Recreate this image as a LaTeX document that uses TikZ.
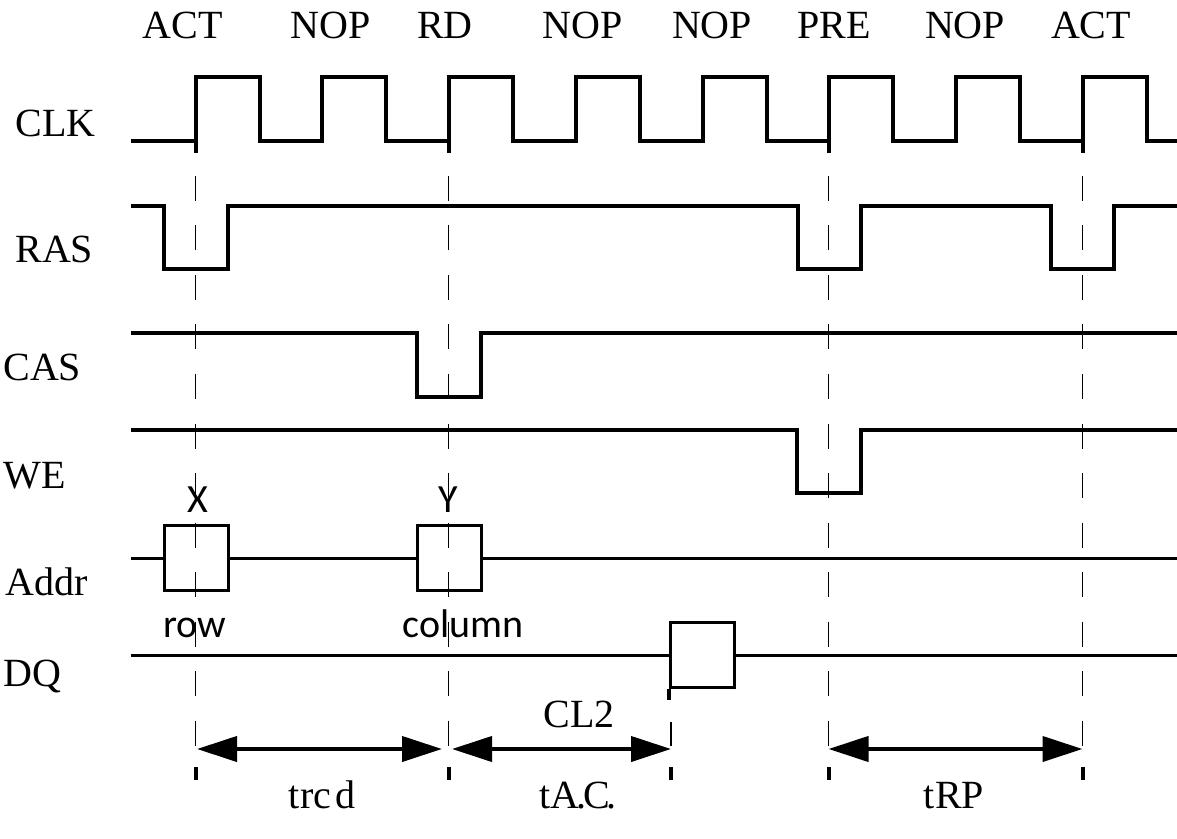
\documentclass[tikz,border=0pt]{standalone}
\usepackage{fontspec}
\setmainfont{Liberation Serif}
\newfontfamily\carl{Carlito}
\usetikzlibrary{arrows.meta}
\begin{document}
\begin{tikzpicture}[x=0.5pt,y=-0.5pt,
  sig/.style={line width=2pt,line join=miter,line cap=butt},
  bus/.style={line width=1.5pt,line cap=butt},
  databox/.style={draw,line width=1.5pt,fill=white,rectangle,inner sep=0pt,minimum width=32pt,minimum height=32.5pt},
  dashline/.style={line width=0.65pt,dash pattern=on 12.5pt off 12.25pt},
  tick/.style={line width=2pt,line cap=butt},
  lbl/.style={inner sep=0pt,font=\fontsize{20pt}{24pt}\selectfont},
  cmd/.style={lbl,anchor=base},
  sname/.style={lbl,anchor=base west},
  sans/.style={inner sep=0pt,anchor=base,font=\carl\fontsize{20pt}{24pt}\selectfont},
  dimarrow/.style={line width=2pt,{Triangle[length=20pt,width=12.5pt,sep=2.5pt]}-{Triangle[length=20pt,width=12.5pt,sep=2.5pt]}}
]
\useasboundingbox (0,0) rectangle (1177,839);

% command labels
\node[cmd] (c1) at (182.5,39) {ACT};
\node[cmd] (c2) at (331,39) {NOP};
\node[cmd] (c3) at (445,39) {RD};
\node[cmd] (c4) at (583,39) {NOP};
\node[cmd] (c5) at (712,39) {NOP};
\node[cmd] (c6) at (834,39) {PRE};
\node[cmd] (c7) at (965,39) {NOP};
\node[cmd] (c8) at (1091,39) {ACT};

% signal names
\node[sname] (nclk) at (15,137) {CLK};
\node[sname] (nras) at (15,263) {RAS};
\node[sname] (ncas) at (3,380) {CAS};
\node[sname] (nwe) at (3,488) {WE};
\node[sname] (naddr) at (5,595) {Addr};
\node[sname] (ndq) at (3,686) {DQ};

% CLK
\draw[sig] (131,141) -- (195.5,141) -- (195.5,77) -- (259.5,77) -- (259.5,141)
  -- (322.25,141) -- (322.25,77) -- (386.25,77) -- (386.25,141)
  -- (448.5,141) -- (448.5,77) -- (513,77) -- (513,141)
  -- (575.75,141) -- (575.75,77) -- (639.75,77) -- (639.75,141)
  -- (702.5,141) -- (702.5,77) -- (766.5,77) -- (766.5,141)
  -- (828.75,141) -- (828.75,77) -- (893.25,77) -- (893.25,141)
  -- (956,141) -- (956,77) -- (1020,77) -- (1020,141)
  -- (1082.75,141) -- (1082.75,77) -- (1146.75,77) -- (1146.75,141) -- (1177,141);
\foreach \x in {195.5,448.5,828.75,1082.75}{
  \draw[tick] (\x,141) -- (\x,153);
}

% RAS
\draw[sig] (131,206) -- (164,206) -- (164,269) -- (228,269) -- (228,206)
  -- (798,206) -- (798,269) -- (861,269) -- (861,206)
  -- (1051,206) -- (1051,269) -- (1114,269) -- (1114,206) -- (1177,206);

% CAS
\draw[sig] (131,333) -- (417,333) -- (417,397) -- (481,397) -- (481,333) -- (1177,333);

% WE
\draw[sig] (131,430) -- (797,430) -- (797,493) -- (861,493) -- (861,430) -- (1177,430);

% Addr
\draw[bus] (131,558) -- (1177,558);
\node[databox] (rowbox) at (196,557.5) {};
\node[databox] (colbox) at (449,557.5) {};
\node[sans] (lx) at (198,512) {X};
\node[sans] (ly) at (448,512) {Y};
\node[sans] (lrow) at (195,637) {row};
\node[sans] (lcol) at (463,637) {column};

% DQ
\draw[bus] (131,655) -- (1177,655);
\node[databox] (dqbox) at (702.5,654.5) {};
\draw[tick] (dqbox.south west) -- ++(0,11);

% dashed guide lines
\foreach \x/\n in {195.5/a,448.5/b,828.75/c,1082.75/d}{
  \coordinate (t\n) at (\x,176);
  \coordinate (b\n) at (\x,746);
  \draw[dashline] (t\n) -- (b\n);
  \draw[tick] (\x,767) -- (\x,780);
}
\coordinate (te) at (671,722);
\coordinate (be) at (671,746);
\draw[dashline] (te) -- (be);
\draw[tick] (671,767) -- (671,780);

% timing arrows
\coordinate (p1) at (192,749);
\coordinate (p2) at (447,749);
\coordinate (p3) at (676,749);
\coordinate (p4) at (823.5,749);
\coordinate (p5) at (1087.5,749);
\draw[dimarrow] (p1) -- (p2);
\draw[dimarrow] (p2) -- (p3);
\draw[dimarrow] (p4) -- (p5);

\node[cmd] (cl2) at (579,727) {CL2};
\node[cmd] (trcd) at (322,808) {trc\kern2pt d};
\node[cmd] (tac) at (578,808) {tA\kern-1.5pt.\kern-1.5pt C\kern-1.5pt.};
\node[cmd] (trp) at (954,808) {tRP};
\end{tikzpicture}
\end{document}
